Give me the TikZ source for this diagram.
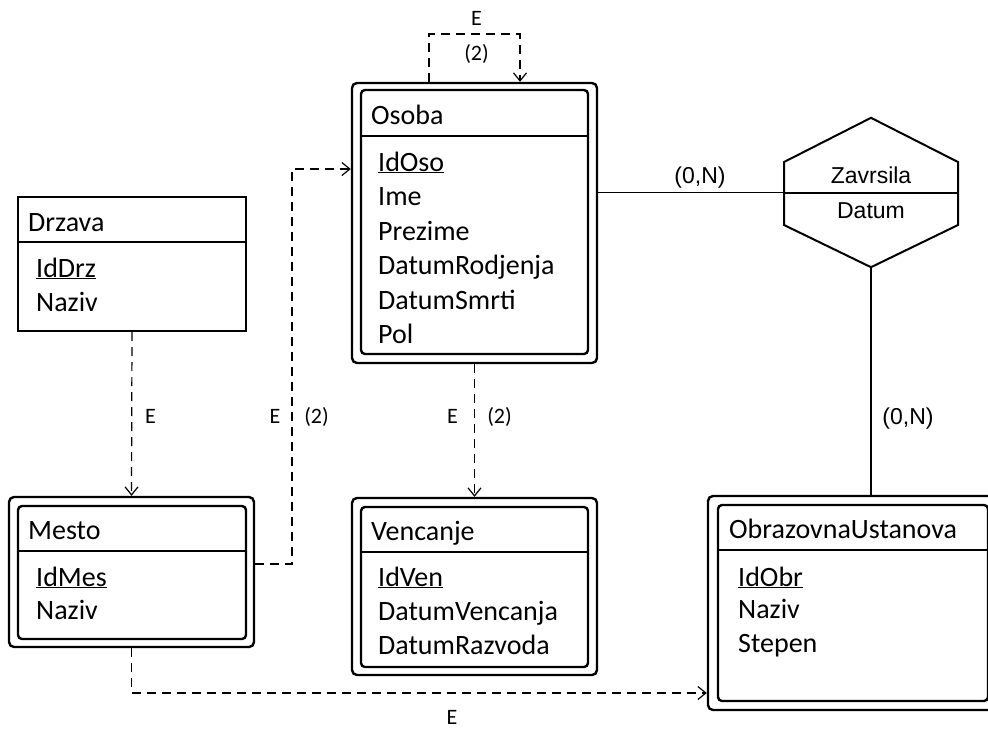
\documentclass[tikz,border=0pt]{standalone}
\usepackage{fontspec}
\setmainfont{Carlito}
\newfontfamily\arialf{Liberation Sans}
\usetikzlibrary{arrows.meta}
\begin{document}
\begin{tikzpicture}[x=1pt,y=-1pt,
  outerbox/.style={draw, line width=2.4pt, rounded corners=5pt, inner sep=0pt},
  plainbox/.style={draw, line width=2.4pt, inner sep=0pt},
  innerline/.style={line width=2.4pt, rounded corners=4pt},
  divline/.style={line width=2.4pt},
  etxt/.style={anchor=base west, inner sep=0pt, font=\fontsize{28}{32}\selectfont},
  lbl/.style={anchor=base, inner sep=0pt, font=\fontsize{22}{25}\selectfont},
  albl/.style={anchor=base, inner sep=0pt, font=\arialf\fontsize{23}{26}\selectfont},
  conn/.style={line width=1.2pt},
  dconn/.style={line width=1.2pt, dash pattern=on 9pt off 6pt},
  arr/.style={-{Straight Barb[length=8pt,width=13pt]}}
]
\useasboundingbox (0,0) rectangle (988,729);
\clip (0,0) rectangle (988,729);

% ---------- Osoba ----------
\node[outerbox, minimum width=245, minimum height=280] (osoba) at (474.5,223) {};
\draw[innerline] (361,90) rectangle (588,354);
\draw[divline] (361,136) -- (588,136);
\node[etxt] (osobaT) at (371,124) {Osoba};
\node[etxt] (osoA1) at (378,171) {\underline{IdOso}};
\node[etxt] (osoA2) at (378,205.5) {Ime};
\node[etxt] (osoA3) at (378,240) {Prezime};
\node[etxt] (osoA4) at (378,274.5) {DatumRodjenja};
\node[etxt] (osoA5) at (378,309) {DatumSmrti};
\node[etxt] (osoA6) at (378,343.5) {Pol};

% ---------- Vencanje ----------
\node[outerbox, minimum width=245, minimum height=177] (vencanje) at (474.5,586.5) {};
\draw[innerline] (361,507) rectangle (588,667);
\draw[divline] (361,552) -- (588,552);
\node[etxt] (venT) at (371,540) {Vencanje};
\node[etxt] (venA1) at (378,586) {\underline{IdVen}};
\node[etxt] (venA2) at (378,620) {DatumVencanja};
\node[etxt] (venA3) at (378,654) {DatumRazvoda};

% ---------- Drzava ----------
\node[plainbox, minimum width=228, minimum height=134] (drzava) at (132,264) {};
\draw[divline] (18,242) -- (246,242);
\node[etxt] (drzT) at (28,231) {Drzava};
\node[etxt] (drzA1) at (36,277) {\underline{IdDrz}};
\node[etxt] (drzA2) at (36,311) {Naziv};

% ---------- Mesto ----------
\node[outerbox, minimum width=245, minimum height=150] (mesto) at (131.5,572) {};
\draw[innerline] (18,506) rectangle (246,639);
\draw[divline] (18,551) -- (246,551);
\node[etxt] (mesT) at (28,539) {Mesto};
\node[etxt] (mesA1) at (36,586) {\underline{IdMes}};
\node[etxt] (mesA2) at (36,619) {Naziv};

% ---------- ObrazovnaUstanova ----------
\node[outerbox, minimum width=289, minimum height=214] (obr) at (852.5,603) {};
\draw[innerline] (718,505) rectangle (988,701);
\draw[divline] (718,550) -- (988,550);
\node[etxt] (obrT) at (729,538) {ObrazovnaUstanova};
\node[etxt] (obrA1) at (738,586) {\underline{IdObr}};
\node[etxt] (obrA2) at (738,618) {Naziv};
\node[etxt] (obrA3) at (738,652) {Stepen};

% ---------- Zavrsila (hexagon) ----------
\node[minimum width=174, minimum height=149, inner sep=0pt] (zav) at (871,192.5) {};
\draw[line width=2pt] (zav.north) -- (958,162) -- (958,225) -- (zav.south)
  -- (784,225) -- (784,162) -- cycle;
\draw[line width=2pt] (784,193) -- (958,193);
\node[albl] (zavT) at (871,183) {Zavrsila};
\node[albl] (zavA) at (871,218) {Datum};

% ---------- connectors ----------
\draw[conn] (osoba.east |- zav.west) -- (zav.west);
\draw[conn] (zav.south) -- (zav.south |- obr.north);
\draw[dconn, arr] (drzava.south) -- (mesto.north);
\draw[dconn, arr] (osoba.south) -- (vencanje.north);
\coordinate (loopL) at (429,34);
\coordinate (loopR) at (520,34);
\draw[dconn, arr] (osoba.north -| loopL) -- (loopL) -- (loopR) -- (osoba.north -| loopR);
\coordinate (mo) at (292,169);
\draw[dconn, arr] (mesto.east |- 0,564) -| (mo) -- (osoba.west |- mo);
\coordinate (mob) at (131.5,693);
\draw[dconn, arr] (mesto.south) -- (mob) -- (obr.west |- mob);

% ---------- labels ----------
\node[lbl] (lblTopE) at (476.5,25) {E};
\node[lbl] (lblTop2) at (476.5,60) {(2)};
\node[lbl] (lblE1) at (150.5,423) {E};
\node[lbl] (lblE2) at (275,423) {E};
\node[lbl] (lbl22) at (316.5,423) {(2)};
\node[lbl] (lblE3) at (452.5,423) {E};
\node[lbl] (lbl23) at (499.5,423) {(2)};
\node[lbl] (lblE4) at (452,724) {E};
\node[albl] (lblN1) at (700,183) {(0,N)};
\node[albl] (lblN2) at (908,424) {(0,N)};
\end{tikzpicture}
\end{document}
